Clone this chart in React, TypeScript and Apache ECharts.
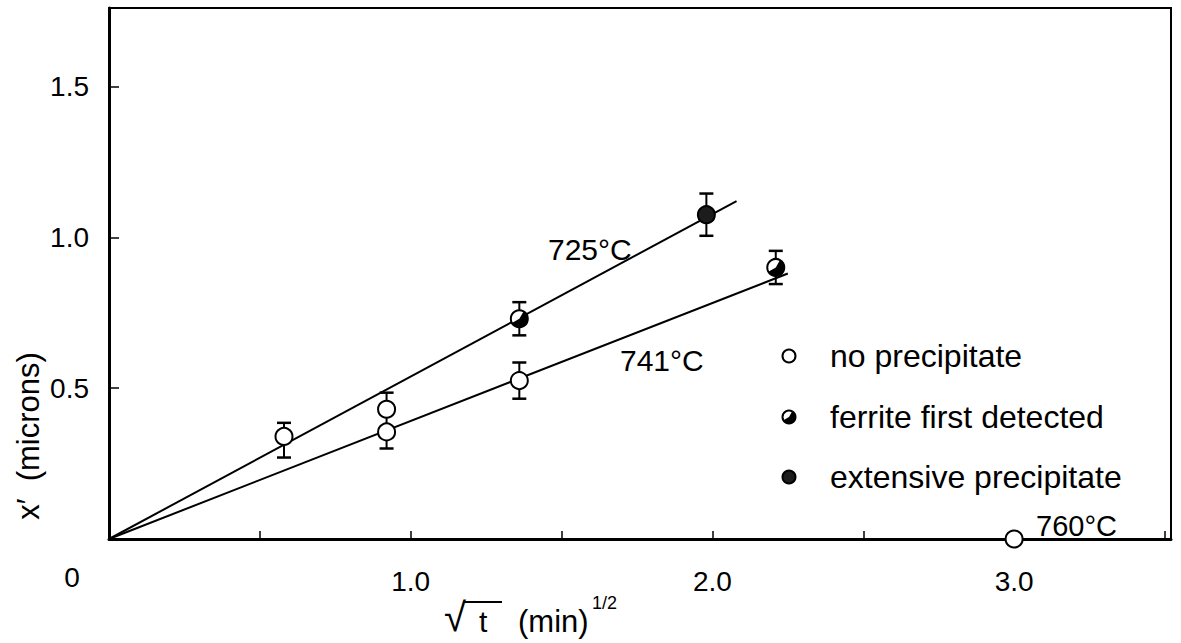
import React, { useEffect, useRef } from "react";
import * as echarts from "echarts";

// Measured points for each isotherm: x = sqrt(t) (min^1/2), y = x' (microns)
const pts725X = [0.58, 0.92, 1.36, 1.98];
const pts725Y = [0.34, 0.43, 0.73, 1.075];
const pts725Lo = [0.27, 0.43, 0.675, 1.005];
const pts725Hi = [0.385, 0.485, 0.785, 1.145];
const pts725Kind = ["none", "none", "ferrite", "extensive"];

const pts741X = [0.92, 1.36, 2.21];
const pts741Y = [0.355, 0.525, 0.9];
const pts741Lo = [0.3, 0.465, 0.845];
const pts741Hi = [0.43, 0.585, 0.955];
const pts741Kind = ["none", "none", "ferrite"];

const pts760X = [3.0];
const pts760Y = [0];
const pts760Kind = ["none"];

// Straight-line fits through the origin
const fit725X = [0, 2.08];
const fit725Y = [0, 1.12];
const fit741X = [0, 2.25];
const fit741Y = [0, 0.88];

// Tick labels shown on each axis
const xTickLabels: Record<string, string> = { "1": "1.0", "2": "2.0", "3": "3.0" };
const yTickLabels: Record<string, string> = { "0.5": "0.5", "1": "1.0", "1.5": "1.5" };

const kindOrder = ["none", "ferrite", "extensive"];
const legendLabels = ["no precipitate", "ferrite first detected", "extensive precipitate"];
const tempLabels = ["725°C", "741°C", "760°C"];

const FONT = "'Liberation Sans', Arial, sans-serif";

function zip(xs: number[], ys: number[]) {
  return xs.map((x, i) => [x, ys[i]]);
}

function label(x: number, y: number, text: string, size: number, align = "left") {
  return {
    type: "text",
    x,
    y,
    style: { text, font: `${size}px ${FONT}`, fill: "#000", align, verticalAlign: "middle" },
  };
}

export default function App() {
  const ref = useRef<HTMLDivElement>(null);

  useEffect(() => {
    if (!ref.current) return;
    const chart = echarts.init(ref.current, undefined, { renderer: "svg" });

    const errData = [
      ...pts725X.map((x, i) => [x, pts725Y[i], pts725Lo[i], pts725Hi[i]]),
      ...pts741X.map((x, i) => [x, pts741Y[i], pts741Lo[i], pts741Hi[i]]),
    ];
    const markerData = [
      ...pts725X.map((x, i) => [x, pts725Y[i], kindOrder.indexOf(pts725Kind[i])]),
      ...pts741X.map((x, i) => [x, pts741Y[i], kindOrder.indexOf(pts741Kind[i])]),
      ...pts760X.map((x, i) => [x, pts760Y[i], kindOrder.indexOf(pts760Kind[i])]),
    ];

    // open circle, half-filled circle (ferrite first detected) or solid circle
    const markerShapes = (cx: number, cy: number, r: number, kind: number) => {
      const children: any[] = [
        {
          type: "circle",
          shape: { cx, cy, r },
          style: { fill: kind === 2 ? "#1c1c1c" : "#fff", stroke: "#000", lineWidth: 2 },
        },
      ];
      if (kind === 1) {
        children.push({
          type: "sector",
          shape: {
            cx,
            cy,
            r,
            r0: 0,
            startAngle: -Math.PI / 3,
            endAngle: (5 * Math.PI) / 6,
            clockwise: true,
          },
          style: { fill: "#000" },
        });
      }
      return children;
    };

    const lineStyle = { color: "#000", width: 2 };
    const legendY = [356, 417, 477];

    const option: any = {
      animation: false,
      backgroundColor: "#fff",
      grid: {
        left: 109,
        right: 10,
        top: 8,
        bottom: 104,
        show: true,
        borderColor: "#000",
        borderWidth: 2,
      },
      xAxis: {
        type: "value",
        min: 0,
        max: 3.52,
        interval: 0.5,
        axisLine: { show: true, lineStyle: { color: "#000", width: 3 } },
        axisTick: { show: true, inside: true, length: 8, lineStyle: { color: "#000", width: 1.5 } },
        axisLabel: {
          color: "#000",
          fontSize: 28,
          fontFamily: FONT,
          margin: 28,
          showMaxLabel: false,
          formatter: (v: number) => xTickLabels[String(v)] ?? "",
        },
        splitLine: { show: false },
      },
      yAxis: {
        type: "value",
        min: 0,
        max: 1.76,
        interval: 0.5,
        axisLine: { show: true, lineStyle: { color: "#000", width: 3 } },
        axisTick: { show: true, inside: true, length: 10, lineStyle: { color: "#000", width: 1.5 } },
        axisLabel: {
          color: "#000",
          fontSize: 28,
          fontFamily: FONT,
          margin: 20,
          showMaxLabel: false,
          formatter: (v: number) => yTickLabels[String(v)] ?? "",
        },
        splitLine: { show: false },
      },
      series: [
        { type: "line", data: zip(fit725X, fit725Y), showSymbol: false, lineStyle, z: 2 },
        { type: "line", data: zip(fit741X, fit741Y), showSymbol: false, lineStyle, z: 2 },
        {
          type: "custom",
          z: 3,
          dimensions: ["x", "y", "lo", "hi"],
          encode: { x: 0, y: 1 },
          data: errData,
          renderItem: (_p: any, api: any) => {
            const x = api.value(0);
            const lo = api.coord([x, api.value(2)]);
            const hi = api.coord([x, api.value(3)]);
            const w = 7;
            const s = { stroke: "#000", lineWidth: 2 };
            return {
              type: "group",
              children: [
                { type: "line", shape: { x1: lo[0], y1: lo[1], x2: hi[0], y2: hi[1] }, style: s },
                { type: "line", shape: { x1: lo[0] - w, y1: lo[1], x2: lo[0] + w, y2: lo[1] }, style: { ...s, lineWidth: 2.5 } },
                { type: "line", shape: { x1: hi[0] - w, y1: hi[1], x2: hi[0] + w, y2: hi[1] }, style: { ...s, lineWidth: 2.5 } },
              ],
            };
          },
        },
        {
          type: "custom",
          z: 4,
          dimensions: ["x", "y", "kind"],
          encode: { x: 0, y: 1 },
          data: markerData,
          renderItem: (_p: any, api: any) => {
            const c = api.coord([api.value(0), api.value(1)]);
            return { type: "group", children: markerShapes(c[0], c[1], 8.5, api.value(2)) };
          },
        },
      ],
      graphic: [
        // origin label
        label(72, 577, "0", 28, "center"),
        // isotherm labels
        label(548, 249, tempLabels[0], 30),
        label(620, 360, tempLabels[1], 30),
        label(1036, 526, tempLabels[2], 29),
        // y-axis title
        {
          type: "text",
          x: 28,
          y: 436,
          rotation: Math.PI / 2,
          style: {
            text: "x′  (microns)",
            font: `31px ${FONT}`,
            fill: "#000",
            align: "center",
            verticalAlign: "middle",
          },
        },
        // x-axis title: √t with vinculum, then (min)^1/2
        label(444, 617, "√", 40),
        { type: "line", shape: { x1: 464, y1: 602, x2: 502, y2: 602 }, style: { stroke: "#000", lineWidth: 2 } },
        label(479, 621, "t", 30),
        label(518, 621, "(min)", 31),
        label(592, 603, "1/2", 18),
        // legend markers and labels
        ...legendY.map((ly, i) => ({
          type: "group",
          children: [...markerShapes(789, ly, 6.5, i), label(830, ly, legendLabels[i], 32)],
        })),
      ],
    };

    chart.setOption(option);
    return () => chart.dispose();
  }, []);

  return (
    <div
      ref={ref}
      style={{ position: "fixed", left: 0, top: 0, width: 1181, height: 643, background: "#fff" }}
    />
  );
}
